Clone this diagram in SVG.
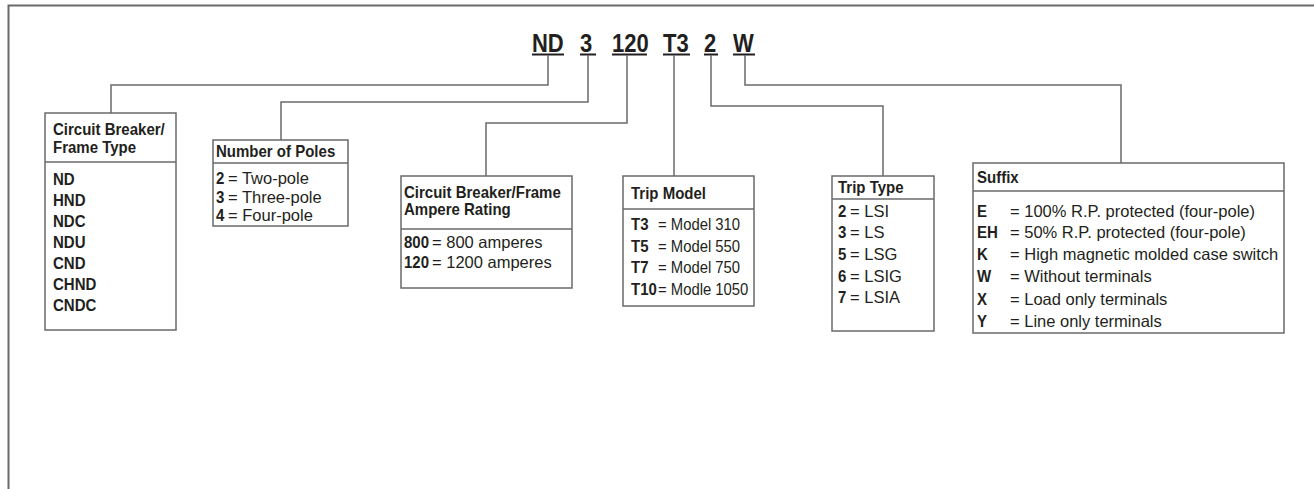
<svg xmlns="http://www.w3.org/2000/svg" width="1314" height="489" viewBox="0 0 1314 489">
<style>
text{font-family:"Liberation Sans",Arial,sans-serif;fill:#231f20}
.t{font-size:25px;font-weight:bold;transform-box:fill-box;transform-origin:0 0;transform:scaleX(0.88)}
.h,.b{font-size:16.5px;font-weight:bold;transform-box:fill-box;transform-origin:0 0;transform:scaleX(0.91)}
.r{font-size:16.5px}
.rn{font-size:16.5px;transform-box:fill-box;transform-origin:0 0;transform:scaleX(0.9)}
.box{fill:#fff;stroke:#6a6a6a;stroke-width:1.5}
.div{stroke:#6a6a6a;stroke-width:1.5}
.c{fill:none;stroke:#6a6a6a;stroke-width:1.5}
.u{stroke:#231f20;stroke-width:2}
</style>
<rect width="1314" height="489" fill="#fff"/>
<path d="M8.5,489 V5.5 H1314" fill="none" stroke="#6a6a6a" stroke-width="2"/>
<g id="title">
<text class="t" x="532" y="52">ND</text>
<text class="t" x="580" y="52">3</text>
<text class="t" x="612" y="52">120</text>
<text class="t" x="663" y="52">T3</text>
<text class="t" x="704" y="52">2</text>
<text class="t" x="733" y="52">W</text>
<line class="u" x1="532" y1="54.5" x2="564" y2="54.5"/>
<line class="u" x1="580" y1="54.5" x2="596" y2="54.5"/>
<line class="u" x1="612" y1="54.5" x2="647" y2="54.5"/>
<line class="u" x1="663" y1="54.5" x2="690" y2="54.5"/>
<line class="u" x1="704" y1="54.5" x2="718" y2="54.5"/>
<line class="u" x1="733" y1="54.5" x2="755" y2="54.5"/>
</g>
<g id="connectors">
<path class="c" d="M548,55 V85 H111 V113"/>
<path class="c" d="M588,55 V102 H281 V140"/>
<path class="c" d="M627,55 V123 H486 V176"/>
<path class="c" d="M674,55 V176"/>
<path class="c" d="M711,55 V106 H883 V176"/>
<path class="c" d="M745,55 V85 H1121 V163"/>
</g>
<g id="frame-type">
<rect class="box" x="45" y="113" width="131" height="217"/>
<line class="div" x1="45" y1="162" x2="176" y2="162"/>
<text class="h" x="53" y="135">Circuit Breaker/</text>
<text class="h" x="53" y="153">Frame Type</text>
<text class="b" x="53" y="185">ND</text>
<text class="b" x="53" y="206">HND</text>
<text class="b" x="53" y="227">NDC</text>
<text class="b" x="53" y="248">NDU</text>
<text class="b" x="53" y="269">CND</text>
<text class="b" x="53" y="290">CHND</text>
<text class="b" x="53" y="311">CNDC</text>
</g>
<g id="poles">
<rect class="box" x="213" y="140" width="135" height="86"/>
<line class="div" x1="213" y1="163" x2="348" y2="163"/>
<text class="h" x="216" y="157">Number of Poles</text>
<text class="b" x="216" y="184">2</text><text class="r" x="228" y="184">= Two-pole</text>
<text class="b" x="216" y="203">3</text><text class="r" x="228" y="203">= Three-pole</text>
<text class="b" x="216" y="221">4</text><text class="r" x="228" y="221">= Four-pole</text>
</g>
<g id="ampere-rating">
<rect class="box" x="401" y="176" width="171" height="112"/>
<line class="div" x1="401" y1="229" x2="572" y2="229"/>
<text class="h" x="404" y="198">Circuit Breaker/Frame</text>
<text class="h" x="404" y="215">Ampere Rating</text>
<text class="b" x="404" y="248">800</text><text class="r" x="432" y="248">= 800 amperes</text>
<text class="b" x="404" y="268">120</text><text class="r" x="432" y="268">= 1200 amperes</text>
</g>
<g id="trip-model">
<rect class="box" x="623" y="176" width="131" height="130"/>
<line class="div" x1="623" y1="209" x2="754" y2="209"/>
<text class="h" x="631" y="199">Trip Model</text>
<text class="b" x="631" y="230">T3</text><text class="rn" x="658" y="230">= Model 310</text>
<text class="b" x="631" y="252">T5</text><text class="rn" x="658" y="252">= Model 550</text>
<text class="b" x="631" y="273">T7</text><text class="rn" x="658" y="273">= Model 750</text>
<text class="b" x="631" y="295">T10</text><text class="rn" x="658" y="295">= Modle 1050</text>
</g>
<g id="trip-type">
<rect class="box" x="832" y="176" width="102" height="155"/>
<line class="div" x1="832" y1="199" x2="934" y2="199"/>
<text class="h" x="838" y="193">Trip Type</text>
<text class="b" x="838" y="217">2</text><text class="r" x="850" y="217">= LSI</text>
<text class="b" x="838" y="238">3</text><text class="r" x="850" y="238">= LS</text>
<text class="b" x="838" y="260">5</text><text class="r" x="850" y="260">= LSG</text>
<text class="b" x="838" y="282">6</text><text class="r" x="850" y="282">= LSIG</text>
<text class="b" x="838" y="303">7</text><text class="r" x="850" y="303">= LSIA</text>
</g>
<g id="suffix">
<rect class="box" x="973" y="163" width="311" height="170"/>
<line class="div" x1="973" y1="191" x2="1284" y2="191"/>
<text class="h" x="977" y="183">Suffix</text>
<text class="b" x="977" y="217">E</text><text class="r" x="1010" y="217">= 100% R.P. protected (four-pole)</text>
<text class="b" x="977" y="238">EH</text><text class="r" x="1010" y="238">= 50% R.P. protected (four-pole)</text>
<text class="b" x="977" y="260">K</text><text class="r" x="1010" y="260">= High magnetic molded case switch</text>
<text class="b" x="977" y="282">W</text><text class="r" x="1010" y="282">= Without terminals</text>
<text class="b" x="977" y="305">X</text><text class="r" x="1010" y="305">= Load only terminals</text>
<text class="b" x="977" y="327">Y</text><text class="r" x="1010" y="327">= Line only terminals</text>
</g>
</svg>
